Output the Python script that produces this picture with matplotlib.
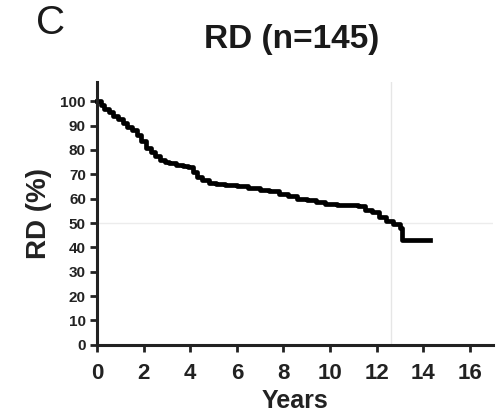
import matplotlib
matplotlib.use("Agg")
import matplotlib.pyplot as plt

# Kaplan-Meier style step data
years = [0, 0.15, 0.3, 0.5, 0.7, 0.9, 1.1, 1.3, 1.5, 1.7, 1.9, 2.1, 2.3, 2.5, 2.7,
         2.9, 3.1, 3.4, 3.7, 3.9, 4.1, 4.3, 4.5, 4.8, 5.1, 5.5, 6.0, 6.5, 7.0,
         7.4, 7.8, 8.2, 8.6, 9.0, 9.4, 9.8, 10.3, 10.8, 11.2, 11.5, 11.8, 12.1,
         12.4, 12.7, 13.0, 13.1, 14.3]
surv = [100, 98.5, 97, 95.5, 94, 92.5, 91, 89.5, 88, 86, 83.5, 81, 79, 77.5, 76,
        75, 74.5, 74, 73.5, 73, 71, 69, 67.5, 66.5, 66, 65.5, 65, 64.5, 63.5,
        63, 62, 61, 60, 59.5, 58.5, 58, 57.5, 57.5, 57, 55.5, 54.5, 52.5,
        51, 49.5, 48, 43, 43]

x_ticks = list(range(0, 17, 2))
y_ticks = list(range(0, 101, 10))
median_year = 12.6
median_level = 50

plt.rcParams['font.family'] = ['Liberation Sans', 'DejaVu Sans']

fig = plt.figure(figsize=(5.04, 4.17), dpi=100)
ax = fig.add_axes([0.1925, 0.173, 0.786, 0.631])

# faint reference lines
ax.axhline(median_level, color='#ececec', linewidth=1, zorder=0)
ax.axvline(median_year, color='#e6e6e6', linewidth=1, zorder=0)

ax.plot(years, surv, drawstyle='steps-post', color='black', linewidth=3.4,
        solid_joinstyle='round', clip_on=False)

ax.set_xlim(0, 17)
ax.set_ylim(0, 108)
ax.set_xticks(x_ticks)
ax.set_yticks(y_ticks)
ax.set_xticklabels([str(t) for t in x_ticks], fontsize=16, fontweight='bold',
                   color='#222222')
ax.set_yticklabels([str(t) for t in y_ticks], fontsize=11, fontweight='bold',
                   color='#222222')
ax.tick_params(axis='x', direction='out', width=2, length=5, pad=8,
               color='#222222')
ax.tick_params(axis='y', direction='out', width=2, length=5, pad=3,
               color='#222222')

for s in ['top', 'right']:
    ax.spines[s].set_visible(False)
for s in ['left', 'bottom']:
    ax.spines[s].set_linewidth(2.2)
    ax.spines[s].set_color('#222222')

ax.set_xlabel("Years", fontsize=18, fontweight='bold', color='#222222', labelpad=4)
ax.set_ylabel("RD (%)", fontsize=20, fontweight='bold', color='#222222', labelpad=6)

fig.text(0.578, 0.905, "RD (n=145)", fontsize=24, fontweight='bold',
         ha='center', va='center', color='#1a1a1a')
fig.text(0.1, 0.945, "C", fontsize=29, ha='center', va='center', color='#1a1a1a')

fig.savefig("out.png", dpi=100, facecolor='white')
